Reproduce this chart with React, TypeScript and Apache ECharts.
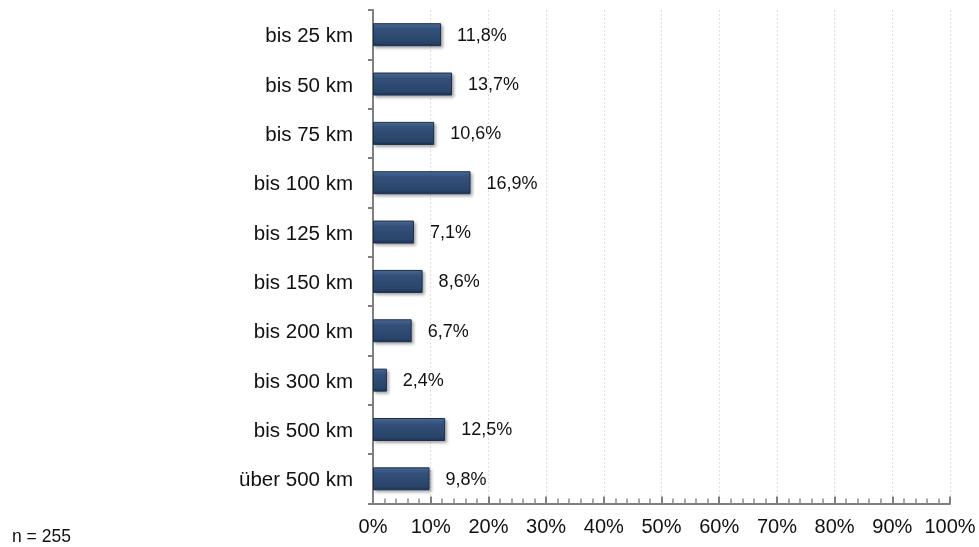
import React, { useEffect, useRef } from "react";
import * as echarts from "echarts";

const categories = ["bis 25 km", "bis 50 km", "bis 75 km", "bis 100 km", "bis 125 km", "bis 150 km", "bis 200 km", "bis 300 km", "bis 500 km", "über 500 km"];
const values = [11.8, 13.7, 10.6, 16.9, 7.1, 8.6, 6.7, 2.4, 12.5, 9.8];
const noteText = "n = 255";

const FONT = "Liberation Sans, Arial, sans-serif";

export default function App() {
  const ref = useRef<HTMLDivElement>(null);
  useEffect(() => {
    const chart = echarts.init(ref.current!, null, { renderer: "svg" });
    chart.setOption({
      animation: false,
      grid: { left: 373, right: 29, top: 10, bottom: 43.5 },
      xAxis: {
        type: "value",
        min: 0,
        max: 100,
        interval: 10,
        axisLine: { show: true, lineStyle: { color: "#7f7f7f", width: 2 } },
        axisTick: { show: true, inside: true, length: 7, lineStyle: { color: "#7f7f7f", width: 2 } },
        minorTick: { show: true, splitNumber: 5, length: 5, lineStyle: { color: "#8a8a8a", width: 1.5 } },
        axisLabel: {
          formatter: (v: number) => v + "%",
          color: "#111",
          fontFamily: FONT,
          fontSize: 20,
          margin: 12,
        },
        splitLine: { show: true, lineStyle: { color: "#dedede", type: [2, 2], width: 1 } },
      },
      yAxis: {
        type: "category",
        data: categories,
        inverse: true,
        axisLine: { show: true, lineStyle: { color: "#7f7f7f", width: 2 } },
        axisTick: { show: true, length: 5, lineStyle: { color: "#7f7f7f", width: 2 } },
        axisLabel: {
          color: "#111",
          fontFamily: FONT,
          fontSize: 20.5,
          margin: 20,
        },
      },
      series: [
        {
          type: "bar",
          data: values,
          barWidth: 23,
          itemStyle: {
            color: new echarts.graphic.LinearGradient(0, 0, 0, 1, [
              { offset: 0, color: "#4a6791" },
              { offset: 0.25, color: "#33507a" },
              { offset: 0.85, color: "#2a4469" },
              { offset: 1, color: "#1d3354" },
            ]),
            borderColor: "#1b2f4d",
            borderWidth: 1,
            shadowColor: "rgba(0,0,0,0.35)",
            shadowBlur: 3,
            shadowOffsetX: 2,
            shadowOffsetY: 2,
          },
          label: {
            show: true,
            position: "right",
            distance: 16,
            formatter: (p: any) => String(p.value.toFixed(1)).replace(".", ",") + "%",
            color: "#111",
            fontFamily: FONT,
            fontSize: 18,
          },
        },
      ],
      graphic: [
        {
          type: "text",
          left: 12,
          top: 527,
          style: { text: noteText, fill: "#111", fontFamily: FONT, fontSize: 17.5 },
        },
      ],
    });
    return () => chart.dispose();
  }, []);
  return <div ref={ref} style={{ width: 979, height: 547, position: "fixed", left: 0, top: 0 }} />;
}
